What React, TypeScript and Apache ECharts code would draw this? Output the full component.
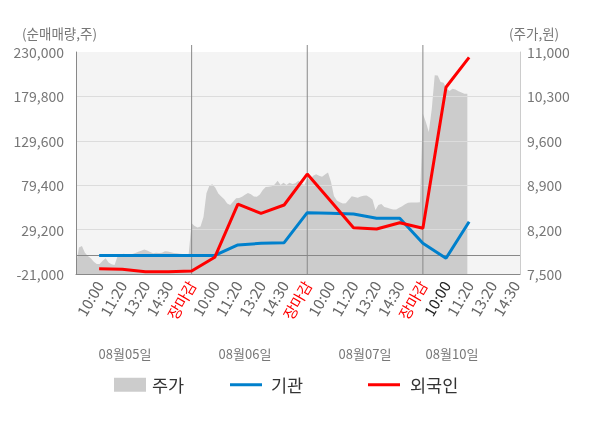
import React, { useEffect, useRef } from "react";
import * as echarts from "echarts";

// ---- data ----
const dayLabels = ["08월05일", "08월06일", "08월07일", "08월10일"];
const slotLabels = ["장마감", "10:00", "11:20", "13:20", "14:30"];
const volTicks = [-21000, 29200, 79400, 129600, 179800, 230000];
const priceTicks = [7500, 8200, 8900, 9600, 10300, 11000];

// stock price (주가) samples per trading day
const priceDay1 = [7642, 7916, 7940, 7836, 7784, 7747, 7694, 7658, 7658, 7710, 7747, 7680, 7652, 7642, 7775, 7805, 7820, 7812, 7800, 7815, 7830, 7852, 7868, 7885, 7870, 7845, 7826, 7834, 7830, 7835, 7858, 7855, 7844, 7832, 7826, 7820, 7815, 7815, 7815];
const priceDay2 = [8299, 8255, 8234, 8247, 8400, 8772, 8896, 8915, 8860, 8770, 8722, 8680, 8610, 8588, 8640, 8696, 8700, 8718, 8750, 8776, 8758, 8722, 8716, 8755, 8825, 8870, 8877, 8884, 8910, 8972, 8904, 8940, 8904, 8940, 8920, 8930, 8972, 8930, 8904];
const priceDay3 = [9009, 8990, 9050, 9072, 9050, 9032, 9070, 9100, 8956, 8730, 8660, 8631, 8610, 8616, 8670, 8727, 8712, 8703, 8723, 8735, 8737, 8711, 8676, 8509, 8588, 8604, 8558, 8546, 8530, 8516, 8518, 8544, 8570, 8600, 8625, 8627, 8628, 8627, 8630];
const priceDay4 = [10028, 9897, 9739, 10100, 10633, 10628, 10528, 10515, 10422, 10384, 10422, 10410, 10381, 10362, 10343, 10343];

// net buying (순매매량) at slots 1..17
const institution = [0, 0, 0, 0, 0, 0, 11800, 13700, 14400, 48300, 47600, 46800, 42000, 42000, 13700, -3250, 38100];
const foreign = [-15000, -15500, -18400, -18400, -17700, -2100, 58100, 47600, 57000, 92000, 61900, 31350, 29900, 37000, 30700, 190100, 224000];

const FONT = "'Noto Sans CJK KR', 'Noto Sans', sans-serif";

export default function App() {
  const ref = useRef<HTMLDivElement>(null);
  useEffect(() => {
    if (!ref.current) return;
    const chart = echarts.init(ref.current, undefined, { renderer: "svg" });
    const volMin = volTicks[0];
    const volStep = volTicks[1] - volTicks[0];
    const volMax = volTicks[volTicks.length - 1];
    const priceMin = priceTicks[0];
    const priceStep = priceTicks[1] - priceTicks[0];
    const priceMax = priceTicks[priceTicks.length - 1];
    const slotsPerDay = 5;
    const samples = 39;

    const areaData: number[][] = [];
    [priceDay1, priceDay2, priceDay3, priceDay4].forEach((arr, d) => {
      arr.forEach((p, i) => {
        areaData.push([d * slotsPerDay + (i * slotsPerDay) / samples, p - priceMin]);
      });
    });
    const instData = institution.map((v, i) => [i + 1, v - volMin]);
    const forData = foreign.map((v, i) => [i + 1, v - volMin]);

    const fmt = (n: number) => n.toLocaleString("en-US");

    const legendBase = {
      top: 371,
      padding: 5,
      itemWidth: 32,
      itemHeight: 14,
      selectedMode: false,
    };
    const legendText = (pad: number) => ({
      fontSize: 17.5,
      color: "#333",
      fontFamily: FONT,
      padding: [0, 0, 0, pad],
    });

    chart.setOption({
      animation: false,
      textStyle: { fontFamily: FONT },
      grid: {
        left: 76,
        right: 80,
        top: 52,
        bottom: 154,
        show: true,
        backgroundColor: "#f4f4f4",
        borderWidth: 0,
      },
      legend: [
        {
          ...legendBase,
          left: 109,
          textStyle: legendText(1),
          data: [{ name: "주가", icon: "rect", itemStyle: { color: "#cccccc" } }],
        },
        {
          ...legendBase,
          left: 225,
          textStyle: legendText(4),
          data: [{ name: "기관", icon: "path://M0 0H32V3H0Z", itemStyle: { color: "#0080cc" } }],
        },
        {
          ...legendBase,
          left: 363,
          textStyle: legendText(5),
          data: [{ name: "외국인", icon: "path://M0 0H32V3H0Z", itemStyle: { color: "#ff0000" } }],
        },
      ],
      xAxis: {
        type: "value",
        min: 0,
        max: 19.2,
        interval: 1,
        z: 3,
        axisLine: { show: true, onZero: false, lineStyle: { color: "#888", width: 1 } },
        axisTick: { show: false },
        splitLine: { show: false },
        axisLabel: {
          rotate: 60,
          margin: 8,
          fontSize: 15,
          color: "#666",
          showMaxLabel: false,
          fontFamily: FONT,
          formatter: (v: number) => {
            if (Math.abs(v - Math.round(v)) > 1e-6) return "";
            const r = Math.round(v);
            if (r === 0) return "";
            const k = r % slotsPerDay;
            const txt = slotLabels[k];
            if (k === 0) return "{r|" + txt + "}";
            if (r === 16) return "{b|" + txt + "}";
            return "{g|" + txt + "}";
          },
          rich: {
            r: { color: "#ff0000", fontSize: 15, fontFamily: FONT },
            b: { color: "#222", fontSize: 15, fontFamily: FONT },
            g: { color: "#666", fontSize: 15, fontFamily: FONT },
          },
        },
      },
      yAxis: [
        {
          type: "value",
          min: 0,
          max: volMax - volMin,
          interval: volStep,
          z: 3,
          axisLine: { show: true, lineStyle: { color: "#888" } },
          axisTick: { show: false },
          splitLine: { show: true, showMaxLine: false, lineStyle: { color: "#dcdcdc", width: 1 } },
          axisLabel: {
            fontSize: 14,
            color: "#777",
            margin: 12,
            fontFamily: FONT,
            formatter: (v: number) => fmt(v + volMin),
          },
        },
        {
          type: "value",
          min: 0,
          max: priceMax - priceMin,
          interval: priceStep,
          position: "right",
          z: 3,
          axisLine: { show: true, lineStyle: { color: "#cccccc" } },
          axisTick: { show: false },
          splitLine: { show: false },
          axisLabel: {
            fontSize: 14,
            color: "#777",
            margin: 7,
            fontFamily: FONT,
            formatter: (v: number) => fmt(v + priceMin),
          },
        },
      ],
      series: [
        {
          name: "주가",
          type: "line",
          yAxisIndex: 1,
          data: areaData,
          symbol: "none",
          showSymbol: false,
          z: 1,
          itemStyle: { color: "#cccccc" },
          lineStyle: { width: 0, color: "#cccccc" },
          areaStyle: { color: "#cccccc", opacity: 1, origin: "start" },
          silent: true,
        },
        {
          name: "기관",
          type: "line",
          yAxisIndex: 0,
          data: instData,
          symbol: "none",
          z: 5,
          itemStyle: { color: "#0080cc" },
          lineStyle: { width: 3, color: "#0080cc" },
          markLine: {
            silent: true,
            symbol: "none",
            label: { show: false },
            lineStyle: { color: "#888", width: 1, type: "solid" },
            data: [{ yAxis: -volMin }],
            z: 4,
          },
        },
        {
          name: "외국인",
          type: "line",
          yAxisIndex: 0,
          data: forData,
          symbol: "none",
          z: 6,
          itemStyle: { color: "#ff0000" },
          lineStyle: { width: 3, color: "#ff0000" },
        },
      ],
    });

    // day separators via the library's own scale
    const bottomPx = chart.convertToPixel({ xAxisIndex: 0, yAxisIndex: 0 }, [0, 0]) as number[];
    const topPx = chart.convertToPixel({ xAxisIndex: 0, yAxisIndex: 0 }, [0, volMax - volMin]) as number[];
    const seps = [1, 2, 3].map((d) => {
      const p = chart.convertToPixel({ xAxisIndex: 0, yAxisIndex: 0 }, [d * slotsPerDay, 0]) as number[];
      return {
        type: "line",
        z: 4,
        silent: true,
        shape: { x1: p[0], y1: topPx[1] - 7, x2: p[0], y2: bottomPx[1] },
        style: { stroke: "#888", lineWidth: 1 },
      };
    });
    const dateCenters = [125, 245, 365, 452];
    const dateTexts = dayLabels.map((t, i) => ({
      type: "text",
      x: dateCenters[i],
      y: 353,
      silent: true,
      style: {
        text: t,
        fill: "#777",
        font: "13px " + FONT,
        textAlign: "center",
        textVerticalAlign: "middle",
      },
    }));
    chart.setOption({
      graphic: [
        ...seps,
        ...dateTexts,
        {
          type: "text",
          x: 22,
          y: 33,
          silent: true,
          style: { text: "(순매매량,주)", fill: "#777", font: "13.5px " + FONT, textVerticalAlign: "middle" },
        },
        {
          type: "text",
          x: 509,
          y: 33,
          silent: true,
          style: { text: "(주가,원)", fill: "#777", font: "13.5px " + FONT, textVerticalAlign: "middle" },
        },
      ],
    });

    return () => chart.dispose();
  }, []);
  return <div ref={ref} style={{ position: "fixed", left: 0, top: 0, width: 600, height: 428 }} />;
}
